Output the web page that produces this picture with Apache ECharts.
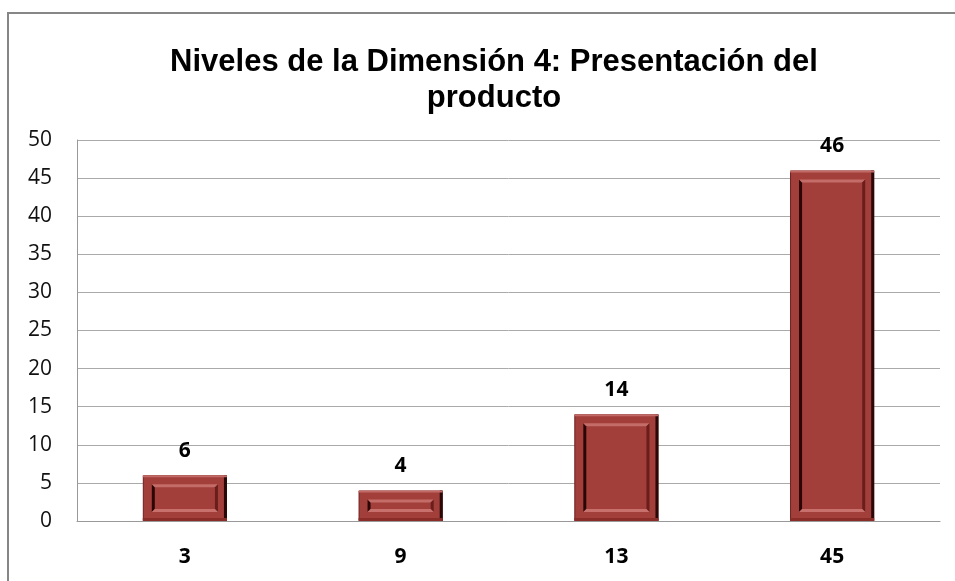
<!DOCTYPE html>
<html><head><meta charset="utf-8">
<script src="https://cdn.jsdelivr.net/npm/echarts@6/dist/echarts.min.js"></script>
<style>html,body{margin:0;padding:0;background:#fff}#c{width:955px;height:581px}</style>
</head><body><div id="c"></div>
<script>
const titleText = 'Niveles de la Dimensión 4: Presentación del\nproducto';
const categories = ['3', '9', '13', '45'];
const values = [6, 4, 14, 46];
const yTicks = {min: 0, max: 50, interval: 5};

const chart = echarts.init(document.getElementById('c'));
const BW = 0.39;
chart.setOption({
  animation: false,
  title: {text: titleText, left: 489, top: 39, textAlign: 'center',
    textStyle: {fontFamily: 'Liberation Sans', fontWeight: 'bold', fontSize: 31, lineHeight: 36, color: '#000'}},
  graphic: [{type: 'rect', shape: {x: 8, y: 13, width: 1200, height: 1200},
    style: {fill: 'none', stroke: '#868686', lineWidth: 2}, silent: true}],
  grid: {left: 77, right: 15, top: 140, bottom: 60},
  xAxis: {type: 'category', data: categories,
    axisLine: {lineStyle: {color: '#999', width: 1}}, axisTick: {show: false},
    axisLabel: {fontFamily: 'Open Sans', fontWeight: 'bold', fontSize: 21, color: '#000', margin: 26}},
  yAxis: {type: 'value', min: yTicks.min, max: yTicks.max, interval: yTicks.interval,
    axisLine: {show: true, lineStyle: {color: '#999'}}, axisTick: {show: false},
    splitLine: {lineStyle: {color: '#aaa'}},
    axisLabel: {fontFamily: 'Open Sans', fontSize: 21, color: '#111', margin: 25}},
  series: [{
    type: 'bar', data: values, barWidth: (BW * 100) + '%',
    itemStyle: {color: '#a23f3b', borderColor: '#6e1f1c', borderWidth: 1},
    label: {show: true, position: 'top', distance: 14, fontFamily: 'Open Sans', fontWeight: 'bold', fontSize: 21, color: '#000'}
  }, {
    type: 'custom', data: values.map((v, i) => [i, v]), silent: true, z: 3,
    renderItem: function (params, api) {
      const top = api.coord([api.value(0), api.value(1)]);
      const base = api.coord([api.value(0), 0]);
      const w = api.size([1, 0])[0] * BW;
      const x0 = top[0] - w / 2, x1 = top[0] + w / 2, y0 = top[1], y1 = base[1];
      const ins = 9;
      const ix0 = x0 + ins, ix1 = x1 - ins, iy0 = y0 + ins, iy1 = y1 - ins;
      const e = 3;
      return {type: 'group', children: [
        {type: 'rect', shape: {x: x1 - 3, y: y0, width: 3, height: y1 - y0}, style: {fill: '#2a0808'}},
        {type: 'rect', shape: {x: x0, y: y0, width: w, height: 2}, style: {fill: '#c26a66'}},
        {type: 'rect', shape: {x: x0, y: y1 - 3, width: w, height: 3}, style: {fill: '#8a2c28'}},
        {type: 'polygon', shape: {points: [[ix0, iy0], [ix0 + e, iy0 + e], [ix0 + e, iy1 - e], [ix0, iy1]]}, style: {fill: '#2a0606'}},
        {type: 'polygon', shape: {points: [[ix0, iy0], [ix1, iy0], [ix1 - e, iy0 + e], [ix0 + e, iy0 + e]]}, style: {fill: '#c46c67'}},
        {type: 'polygon', shape: {points: [[ix1, iy0], [ix1, iy1], [ix1 - e, iy1 - e], [ix1 - e, iy0 + e]]}, style: {fill: '#6a1e1b'}},
        {type: 'polygon', shape: {points: [[ix0, iy1], [ix1, iy1], [ix1 - e, iy1 - e], [ix0 + e, iy1 - e]]}, style: {fill: '#c8706b'}}
      ]};
    }
  }]
});
</script></body></html>
